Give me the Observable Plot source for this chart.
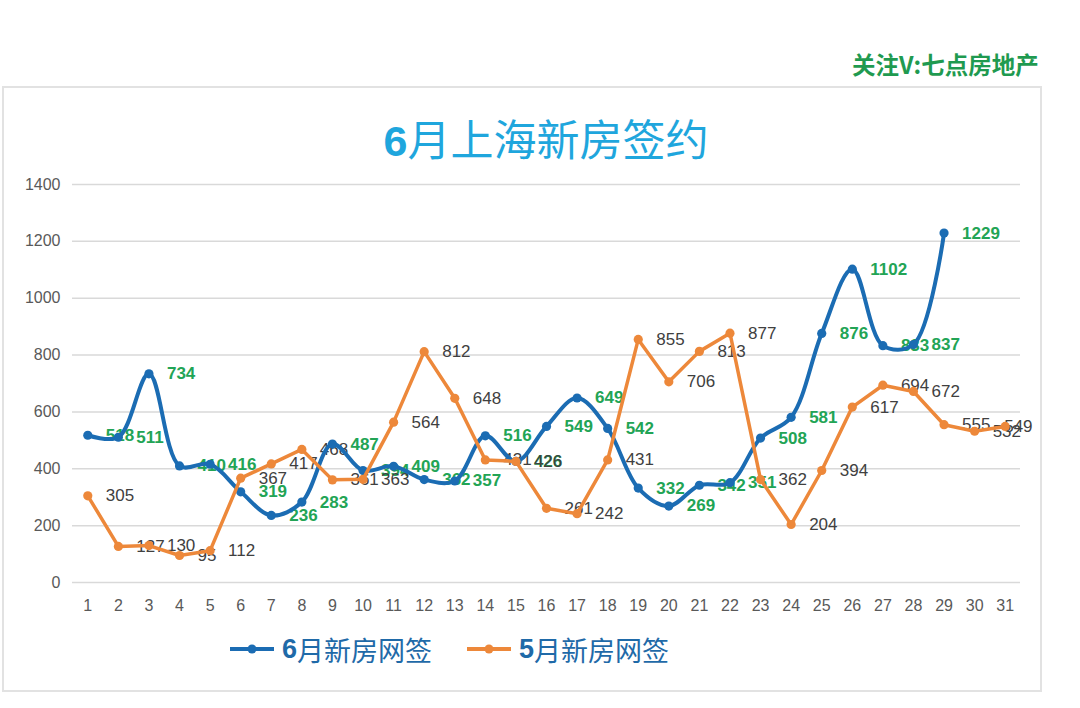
<!DOCTYPE html>
<html>
<head>
<meta charset="utf-8">
<script src="https://cdn.jsdelivr.net/npm/d3@7"></script>
<script src="https://cdn.jsdelivr.net/npm/@observablehq/plot@0.6"></script>
<style>
  body { margin: 0; background: #fff; width: 1080px; height: 708px; position: relative; overflow: hidden; font-family: "Liberation Sans", Arial, sans-serif; }
  #mark { position: absolute; left: 852px; top: 47px; font: bold 23.5px "Noto Sans CJK SC"; color: #1f9a50; white-space: nowrap; }
  #frame { position: absolute; left: 2px; top: 86px; width: 1036px; height: 602px; border: 2px solid #e2e2e2; }
  #title { position: absolute; left: 72px; width: 948px; top: 106px; line-height: 56px; text-align: center; font: 43px "Noto Sans CJK SC"; color: #1fa6dd; }
  #title b, .leg b { font-family: "Liberation Sans", Arial, sans-serif; }
  #chart { position: absolute; left: 0; top: 170px; }
  .leg { position: absolute; top: 630px; height: 38px; display: flex; align-items: center; font: 27px "Noto Sans CJK SC"; color: #1f6aa8; white-space: nowrap; }
  .leg svg { margin-right: 8px; }
</style>
</head>
<body>
<div id="mark">关注V:七点房地产</div>
<div id="frame"></div>
<div id="title"><b>6</b>月上海新房签约</div>
<div id="chart"></div>
<div class="leg" style="left:230px"><svg width="44" height="12"><line x1="0" x2="44" y1="6" y2="6" stroke="#1b6cb3" stroke-width="4"/><circle cx="22" cy="6" r="4.5" fill="#1b6cb3"/></svg><b>6</b>月新房网签</div>
<div class="leg" style="left:467px"><svg width="44" height="12"><line x1="0" x2="44" y1="6" y2="6" stroke="#ed883a" stroke-width="4"/><circle cx="22" cy="6" r="4.5" fill="#ed883a"/></svg><b>5</b>月新房网签</div>
<script>
// 日期 1..31
const days = d3.range(1, 32)
// 6月新房网签 (到29日)
const june = [518, 511, 734, 410, 416, 319, 236, 283, 487, 394, 409, 362, 357, 516, 426,
  549, 649, 542, 332, 269, 342, 351, 508, 581, 876, 1102, 833, 837, 1229]
// 5月新房网签
const may = [305, 127, 130, 95, 112, 367, 417, 468, 361, 363, 564, 812, 648, 431, 426,
  261, 242, 431, 855, 706, 813, 877, 362, 204, 394, 617, 694, 672, 555, 532, 549]
const yTicks = [0, 200, 400, 600, 800, 1000, 1200, 1400]

const blue = '#1b6cb3'
const orange = '#ed883a'

const juneRows = june.map((v, i) => ({day: days[i], v}))
const mayRows = may.map((v, i) => ({day: days[i], v}))
const lastDay = days[days.length - 1]

const chart = Plot.plot({
  width: 1040,
  height: 450,
  marginTop: 14,
  marginBottom: 38,
  marginLeft: 72,
  marginRight: 20,
  style: {fontFamily: '"Liberation Sans", Arial, sans-serif', background: 'transparent', overflow: 'visible'},
  x: {type: 'point', domain: days, padding: 0.5, round: false, label: null},
  y: {domain: [0, 1400], label: null},
  marks: [
    Plot.ruleY(yTicks, {stroke: '#d9d9d9', strokeWidth: 1.5}),
    Plot.axisY(yTicks, {tickSize: 0, tickPadding: 12, fontSize: 16, fill: '#595959', label: null, tickFormat: d => String(d)}),
    Plot.axisX(days, {tickSize: 0, tickPadding: 17, fontSize: 16, fill: '#595959', label: null}),

    // 数据标签 (在线条下面)
    Plot.text(juneRows, {x: 'day', y: 'v', text: d => String(d.v), textAnchor: 'start', dx: 18,
      fill: '#22a455', fontWeight: 'bold', fontSize: 17}),
    Plot.text(mayRows.filter(d => d.day !== lastDay), {x: 'day', y: 'v', text: d => String(d.v),
      textAnchor: 'start', dx: 18, fill: '#404040', fontSize: 17}),
    Plot.text(mayRows.filter(d => d.day === lastDay), {x: 'day', y: 'v', text: d => String(d.v),
      textAnchor: 'start', dx: -1, fill: '#404040', fontSize: 17}),

    Plot.line(juneRows, {x: 'day', y: 'v', stroke: blue, strokeWidth: 4, curve: 'catmull-rom'}),
    Plot.dot(juneRows, {x: 'day', y: 'v', r: 4.6, fill: blue}),
    Plot.line(mayRows, {x: 'day', y: 'v', stroke: orange, strokeWidth: 3.5}),
    Plot.dot(mayRows, {x: 'day', y: 'v', r: 4.6, fill: orange}),
  ],
})

d3.select('#chart').append(() => chart)
</script>
</body>
</html>
